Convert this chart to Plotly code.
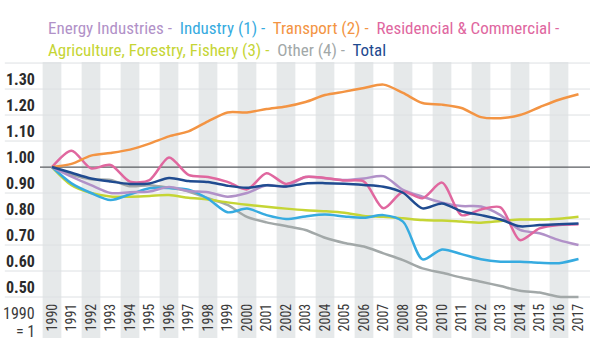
import plotly.graph_objects as go

years = list(range(1990, 2018))

energy = [1.00, 0.963, 0.93, 0.90, 0.903, 0.906, 0.923, 0.908, 0.903, 0.886, 0.90, 0.93, 0.925, 0.962,
          0.957, 0.95, 0.956, 0.965, 0.912, 0.886, 0.863, 0.85, 0.848, 0.815, 0.758, 0.745, 0.719, 0.70]
industry = [1.00, 0.937, 0.90, 0.873, 0.895, 0.918, 0.919, 0.913, 0.878, 0.826, 0.84, 0.815, 0.80, 0.81,
            0.817, 0.81, 0.805, 0.815, 0.79, 0.645, 0.683, 0.665, 0.645, 0.636, 0.636, 0.632, 0.63, 0.646]
transport = [1.00, 1.012, 1.044, 1.054, 1.067, 1.09, 1.118, 1.137, 1.176, 1.21, 1.21, 1.223, 1.233, 1.25,
             1.277, 1.29, 1.304, 1.317, 1.285, 1.246, 1.24, 1.227, 1.192, 1.188, 1.20, 1.23, 1.259, 1.28]
residential = [1.00, 1.063, 0.995, 1.008, 0.944, 0.95, 1.037, 0.97, 0.962, 0.943, 0.914, 0.976, 0.935, 0.962,
               0.958, 0.948, 0.944, 0.841, 0.905, 0.88, 0.94, 0.815, 0.837, 0.845, 0.719, 0.764, 0.777, 0.78]
agriculture = [1.00, 0.93, 0.90, 0.887, 0.886, 0.889, 0.892, 0.882, 0.875, 0.864, 0.855, 0.847, 0.84, 0.834,
               0.83, 0.824, 0.812, 0.809, 0.803, 0.796, 0.794, 0.79, 0.786, 0.792, 0.798, 0.798, 0.801, 0.809]
other = [1.00, 0.97, 0.953, 0.95, 0.926, 0.93, 0.92, 0.906, 0.88, 0.854, 0.808, 0.787, 0.773, 0.758,
         0.728, 0.708, 0.694, 0.668, 0.642, 0.61, 0.593, 0.575, 0.559, 0.542, 0.524, 0.517, 0.501, 0.50]
total = [1.00, 0.978, 0.956, 0.944, 0.935, 0.937, 0.958, 0.946, 0.942, 0.928, 0.92, 0.93, 0.925, 0.937,
         0.938, 0.936, 0.931, 0.924, 0.901, 0.841, 0.86, 0.83, 0.815, 0.798, 0.772, 0.777, 0.78, 0.783]

series_names = ["Energy Industries", "Industry (1)", "Transport (2)", "Residencial & Commercial",
                "Agriculture, Forestry, Fishery (3)", "Other (4)", "Total"]
y_ticks = [0.5, 0.6, 0.7, 0.8, 0.9, 1.0, 1.1, 1.2, 1.3]
y_tick_labels = ["0.50", "0.60", "0.70", "0.80", "0.90", "1.00", "1.10", "1.20", "1.30"]
grid_levels = [0.5, 0.6, 0.7, 0.8, 0.9, 1.1, 1.2, 1.3, 1.4]

colors = {
    "Energy Industries": "#b191c8",
    "Industry (1)": "#36abe0",
    "Transport (2)": "#f39443",
    "Residencial & Commercial": "#e0679f",
    "Agriculture, Forestry, Fishery (3)": "#c5d535",
    "Other (4)": "#a2a8a8",
    "Total": "#1f4b90",
}
data = {
    "Energy Industries": energy,
    "Industry (1)": industry,
    "Transport (2)": transport,
    "Residencial & Commercial": residential,
    "Agriculture, Forestry, Fishery (3)": agriculture,
    "Other (4)": other,
    "Total": total,
}

FONT = "Liberation Sans Narrow, Roboto Condensed, Arial Narrow, Liberation Sans, sans-serif"

fig = go.Figure()
draw_order = ["Other (4)", "Agriculture, Forestry, Fishery (3)", "Industry (1)", "Energy Industries",
              "Residencial & Commercial", "Transport (2)", "Total"]
for name in draw_order:
    fig.add_trace(go.Scatter(x=years, y=data[name], mode="lines", name=name,
                             line=dict(color=colors[name], width=2.5, shape="spline", smoothing=0.8),
                             showlegend=False, hoverinfo="skip"))

shapes = []
# alternating grey bands
for yr in years[::2]:
    shapes.append(dict(type="rect", xref="x", yref="paper", x0=yr - 0.48, x1=yr + 0.48,
                       y0=-0.16, y1=1.0, fillcolor="#e6e9ea", line=dict(width=0), layer="below"))
# grid lines
for g in grid_levels:
    shapes.append(dict(type="line", xref="paper", yref="y", x0=-0.064, x1=1.0, y0=g, y1=g,
                       line=dict(color="#dde0e3", width=1), layer="below"))
# 1.00 reference line
shapes.append(dict(type="line", xref="paper", yref="y", x0=0.0, x1=1.0, y0=1.0, y1=1.0,
                   line=dict(color="#5a5d60", width=1.3), layer="below"))

annotations = []
for v, t in zip(y_ticks, y_tick_labels):
    annotations.append(dict(xref="paper", yref="y", x=-0.005, y=v, text="<b>" + t + "</b>",
                            showarrow=False, xanchor="right", yanchor="bottom", yshift=-2,
                            font=dict(family=FONT, size=16, color="#2b2b2b")))
annotations.append(dict(xref="paper", yref="paper", x=-0.005, y=-0.01, text="1990",
                        showarrow=False, xanchor="right", yanchor="top",
                        font=dict(family=FONT, size=16, color="#3a3a3a")))
annotations.append(dict(xref="paper", yref="paper", x=-0.005, y=-0.085, text="= 1",
                        showarrow=False, xanchor="right", yanchor="top",
                        font=dict(family=FONT, size=16, color="#3a3a3a")))

def seg(name, sep=" - "):
    return '<span style="color:%s">%s%s</span>' % (colors[name], name, sep)

line1 = seg(series_names[0]) + " " + seg(series_names[1]) + " " + seg(series_names[2]) + " " + seg(series_names[3], " -")
line2 = seg(series_names[4]) + " " + seg(series_names[5]) + " " + seg(series_names[6], "")
annotations.append(dict(xref="paper", yref="paper", x=0.0, y=1.0, xshift=6, yshift=34, text=line1,
                        showarrow=False, xanchor="left", yanchor="middle",
                        font=dict(family=FONT, size=17)))
annotations.append(dict(xref="paper", yref="paper", x=0.0, y=1.0, xshift=6, yshift=12, text=line2,
                        showarrow=False, xanchor="left", yanchor="middle",
                        font=dict(family=FONT, size=17)))

fig.update_layout(
    width=598, height=347,
    margin=dict(l=40, r=8, t=62, b=47, autoexpand=False),
    paper_bgcolor="white", plot_bgcolor="white",
    shapes=shapes, annotations=annotations,
    hovermode=False,
    xaxis=dict(range=[1989.385, 2017.59], tickmode="array", tickvals=years,
               ticktext=[str(y) for y in years], tickangle=-90, showgrid=False, zeroline=False,
               showline=False, ticks="", automargin=False,
               tickfont=dict(family=FONT, size=14, color="#3a3a3a")),
    yaxis=dict(range=[0.4885, 1.404], showticklabels=False, showgrid=False, zeroline=False,
               showline=False, ticks="", automargin=False),
)

fig.write_html("out.html", config={"displayModeBar": False},
               post_script="document.body.style.margin='0';document.body.style.overflow='hidden';")
